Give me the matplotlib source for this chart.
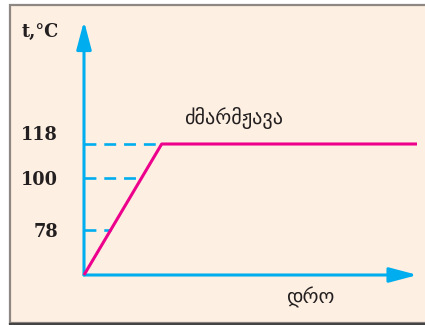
import numpy as np
import matplotlib
matplotlib.use("Agg")
import matplotlib.pyplot as plt
from matplotlib.patches import Rectangle
from matplotlib.ticker import NullLocator

# ---- data ----
time_min = [0, 7, 30]          # schematic time
temp_c = [20, 118, 118]        # heating then boiling plateau
level_values = [118, 100, 78]  # dashed reference levels
level_labels = ["118", "100", "78"]
substance_label = "ძმარმჟავა"
x_label = "დრო"
y_label = "t,°C"

# ---- style ----
BG = "#fdefe1"
BLUE = "#00aeef"
MAGENTA = "#ec008c"
W, H = 425, 325
fig = plt.figure(figsize=(W / 100, H / 100), dpi=100, facecolor="white")

# frame
fig.patches.append(Rectangle((9.5 / W, 1 - 322.5 / H), (W + 5) / W, (322.5 - 5) / H,
                             transform=fig.transFigure, facecolor=BG,
                             edgecolor="#8f8783", linewidth=1.6, zorder=-5))
fig.add_artist(plt.Line2D([9.5 / W, 1], [1 - 323.5 / H] * 2, transform=fig.transFigure,
                          color="#444444", linewidth=1.6, zorder=-4))

ax = fig.add_axes([0, 0, 1, 1])
ax.set_zorder(2)
ax.patch.set_visible(False)
for s in ax.spines.values():
    s.set_visible(False)

# schematic (non-linear) temperature scale
knots_t = np.array([-200, 20, 78, 100, 118, 400])
knots_h = np.array([-220, 0, 45, 97, 131, 413])
fwd = lambda t: np.interp(t, knots_t, knots_h)
inv = lambda h: np.interp(h, knots_h, knots_t)
ax.set_yscale("function", functions=(fwd, inv))
for a in (ax.xaxis, ax.yaxis):
    a.set_major_locator(NullLocator())
    a.set_minor_locator(NullLocator())
ox, oy = 84, 275
pxmin = 333 / 30
ax.set_xlim(-ox / pxmin, (W - ox) / pxmin)
ax.set_ylim(inv(-(H - oy)), inv(oy))

t0 = temp_c[0]
arrow = dict(arrowstyle="-|>,head_length=1.7,head_width=0.45",
             color=BLUE, lw=2.2, mutation_scale=10, shrinkA=0, shrinkB=0)
# axes arrows
ax.annotate("", xy=(time_min[-1] + 0.05, t0), xytext=(0, t0),
            arrowprops=arrow, annotation_clip=False)
ax.annotate("", xy=(0, inv(oy - 21)), xytext=(0, t0),
            arrowprops=arrow, annotation_clip=False)

# dashed levels up to the heating line
h_top = fwd(temp_c[1])
for v in level_values:
    xc = time_min[1] * fwd(v) / h_top
    ax.plot([0, xc], [v, v], color=BLUE, lw=1.9, ls=(0, (4.5, 3)), zorder=2)

ax.plot(time_min, temp_c, color=MAGENTA, lw=2.2, solid_capstyle="butt", zorder=3)

serif = dict(family="DejaVu Serif", weight="bold", size=12.8, color="#231f20")
offs = {"118": 9, "100": -2, "78": -2}
for v, lab in zip(level_values, level_labels):
    ax.annotate(lab, xy=(0, v), xytext=(-26 / 1.389, offs[lab] / 1.389),
                textcoords="offset points", ha="right", va="center", **serif)
ax.text(22 / W, 1 - 32 / H, y_label, transform=fig.transFigure, ha="left", va="center", **serif)

geo = dict(family="DejaVu Sans", size=14.5, color="#231f20")
ax.text(234 / W, 1 - 118 / H, substance_label, transform=fig.transFigure,
        ha="center", va="center", **geo)
ax.text(310 / W, 1 - 297 / H, x_label, transform=fig.transFigure,
        ha="center", va="center", **geo)

fig.savefig("out.png", dpi=100, facecolor="white")
